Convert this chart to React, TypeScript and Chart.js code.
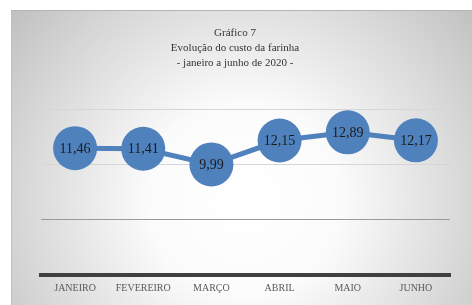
import React, { useEffect, useRef } from "react";
import { Chart, registerables } from "chart.js";

Chart.register(...registerables);

const titleLines = ["Gráfico 7", "Evolução do custo da farinha", "- janeiro a junho de 2020 -"];
const months = ["JANEIRO", "FEVEREIRO", "MARÇO", "ABRIL", "MAIO", "JUNHO"];
const costs = [11.46, 11.41, 9.99, 12.15, 12.89, 12.17];
const yTicks = [0, 5, 10, 15];

const fmt = (v: number) => v.toFixed(2).replace(".", ",");

const bgPlugin = {
  id: "bgPlugin",
  beforeDraw(chart: any) {
    const { ctx, width, height } = chart;
    ctx.save();
    ctx.fillStyle = "#ffffff";
    ctx.fillRect(0, 0, width, height);
    const g = ctx.createRadialGradient(245, 200, 10, 245, 200, 300);
    g.addColorStop(0, "#ffffff");
    g.addColorStop(0.3, "#fbfbfb");
    g.addColorStop(0.75, "#d6d6d6");
    g.addColorStop(1, "#c0c0c0");
    ctx.fillStyle = g;
    ctx.fillRect(11, 10, width - 11, height - 10);
    ctx.fillStyle = "#b4b4b4";
    ctx.fillRect(11, 10, width - 11, 1);
    ctx.fillStyle = "#c0c0c0";
    ctx.fillRect(11, 10, 1, height - 10);
    ctx.restore();
  },
};

const titlePlugin = {
  id: "titlePlugin",
  afterDraw(chart: any) {
    const { ctx } = chart;
    ctx.save();
    ctx.fillStyle = "#333333";
    ctx.font = "11px 'Liberation Serif', serif";
    ctx.textAlign = "center";
    ctx.textBaseline = "middle";
    titleLines.forEach((t, i) => ctx.fillText(t, 235, 33 + i * 15));
    ctx.restore();
  },
};

const labelPlugin = {
  id: "labelPlugin",
  afterDatasetsDraw(chart: any) {
    const { ctx } = chart;
    const meta = chart.getDatasetMeta(0);
    ctx.save();
    ctx.fillStyle = "#1a1a1a";
    ctx.font = "14px 'Liberation Serif', serif";
    ctx.textAlign = "center";
    ctx.textBaseline = "middle";
    meta.data.forEach((pt: any, i: number) => {
      ctx.fillText(fmt(costs[i]), pt.x, pt.y + 1);
    });
    ctx.restore();
  },
};

export default function App() {
  const ref = useRef<HTMLCanvasElement>(null);
  useEffect(() => {
    if (!ref.current) return;
    const chart = new Chart(ref.current, {
      type: "line",
      data: {
        labels: months,
        datasets: [
          {
            data: costs,
            borderColor: "#4F81BD",
            backgroundColor: "#4F81BD",
            borderWidth: 5,
            pointRadius: 22,
            pointHoverRadius: 22,
            pointBorderWidth: 0,
            pointBackgroundColor: "#4F81BD",
            tension: 0,
            clip: false as any,
          },
        ],
      },
      options: {
        animation: false,
        responsive: false,
        events: [],
        layout: { padding: { left: 41, right: 19, top: 109, bottom: 4 } },
        plugins: { legend: { display: false }, title: { display: false }, tooltip: { enabled: false } },
        scales: {
          x: {
            offset: true,
            grid: { display: false, drawTicks: false },
            border: { display: true, color: "#404040", width: 4 },
            ticks: {
              color: "#595959",
              font: { family: "'Liberation Serif', serif", size: 10 },
              padding: 7,
              maxRotation: 0,
              autoSkip: false,
            },
          },
          y: {
            min: yTicks[0],
            max: yTicks[yTicks.length - 1],
            afterBuildTicks: (axis: any) => {
              axis.ticks = yTicks.map((v) => ({ value: v }));
            },
            ticks: { display: false },
            border: { display: false },
            grid: {
              drawTicks: false,
              color: (c: any) => (c.tick && c.tick.value === 5 ? "#9a9a9a" : c.tick && c.tick.value === 0 ? "rgba(0,0,0,0)" : "#d6d6d6"),
              lineWidth: 1,
            },
          },
        },
      },
      plugins: [bgPlugin, titlePlugin, labelPlugin],
    });
    return () => chart.destroy();
  }, []);
  return (
    <div style={{ position: "fixed", left: 0, top: 0, width: 472, height: 305 }}>
      <canvas ref={ref} width={472} height={305} style={{ width: 472, height: 305, display: "block" }} />
    </div>
  );
}
